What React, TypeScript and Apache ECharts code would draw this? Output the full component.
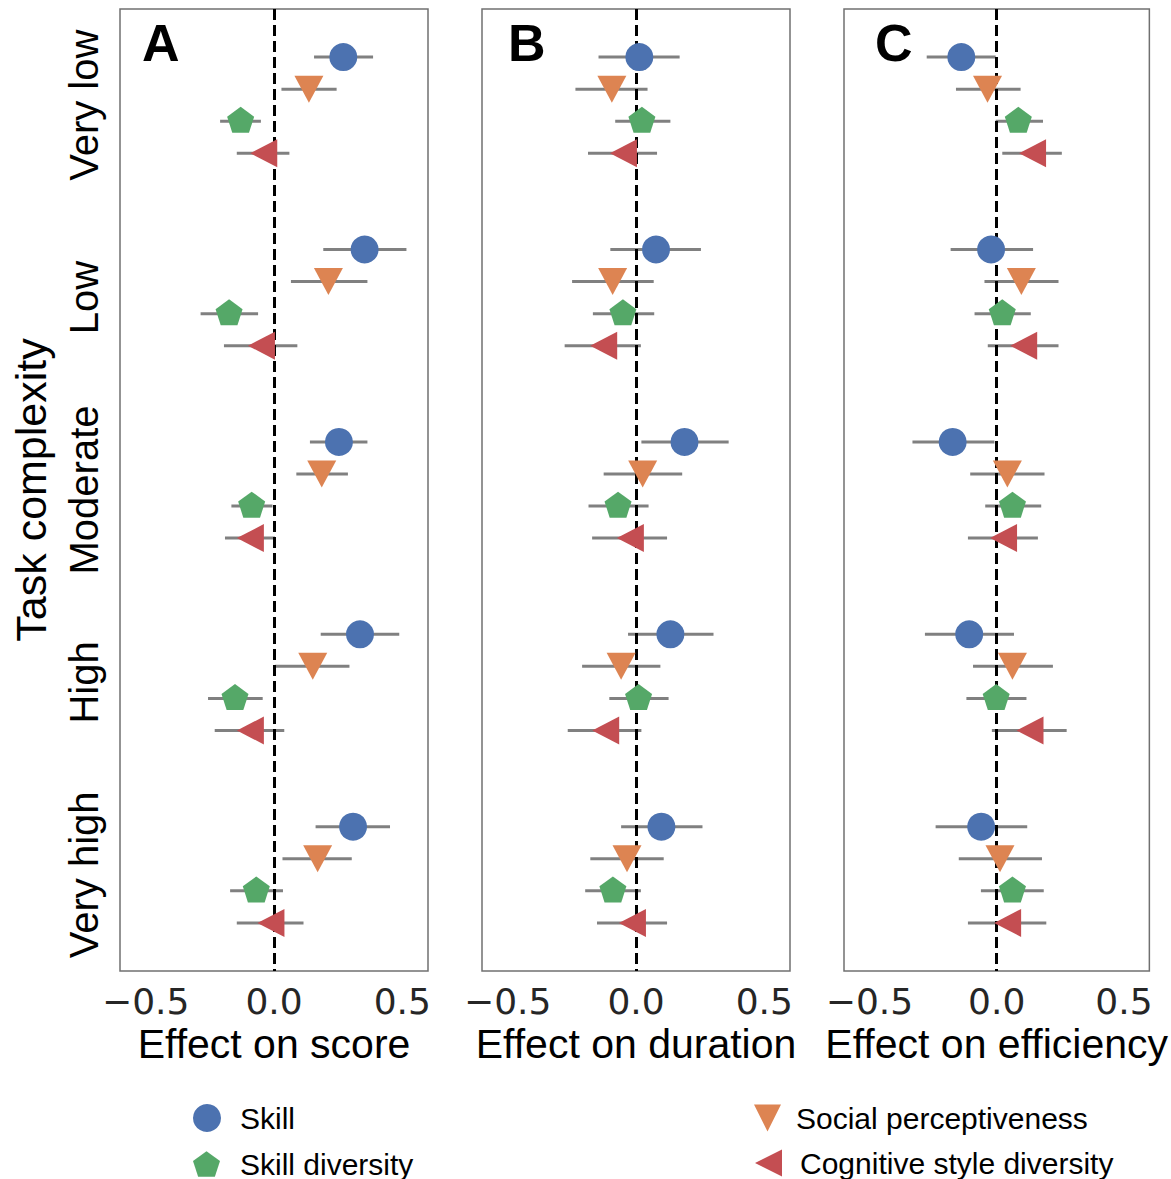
import React, { useEffect, useRef } from "react";
import * as echarts from "echarts";

// Task complexity levels (top to bottom)
const categories = ["Very low", "Low", "Moderate", "High", "Very high"];
const predictors = ["Skill", "Social perceptiveness", "Skill diversity", "Cognitive style diversity"];
const panelLetters = ["A", "B", "C"];
const outcomeTitles = ["Effect on score", "Effect on duration", "Effect on efficiency"];
const xTicks = [-0.5, 0, 0.5];

// [estimate, lower CI, upper CI] for each complexity level
const scoreSkill = [[0.27, 0.156, 0.386], [0.353, 0.192, 0.516], [0.253, 0.14, 0.364], [0.335, 0.182, 0.488], [0.308, 0.162, 0.452]];
const scoreSocial = [[0.136, 0.029, 0.244], [0.212, 0.066, 0.364], [0.186, 0.087, 0.288], [0.151, 0.004, 0.294], [0.17, 0.033, 0.303]];
const scoreSkillDiv = [[-0.13, -0.21, -0.051], [-0.175, -0.286, -0.062], [-0.087, -0.166, -0.006], [-0.152, -0.257, -0.044], [-0.069, -0.171, 0.035]];
const scoreCogDiv = [[-0.04, -0.145, 0.06], [-0.049, -0.195, 0.091], [-0.092, -0.191, 0.004], [-0.092, -0.231, 0.04], [-0.012, -0.145, 0.115]];

const durationSkill = [[0.013, -0.146, 0.17], [0.078, -0.1, 0.253], [0.189, 0.021, 0.361], [0.134, -0.031, 0.302], [0.099, -0.058, 0.259]];
const durationSocial = [[-0.094, -0.236, 0.045], [-0.091, -0.249, 0.069], [0.026, -0.126, 0.18], [-0.058, -0.21, 0.095], [-0.035, -0.178, 0.108]];
const durationSkillDiv = [[0.023, -0.081, 0.134], [-0.051, -0.168, 0.071], [-0.07, -0.185, 0.049], [0.01, -0.104, 0.127], [-0.09, -0.198, 0.019]];
const durationCogDiv = [[-0.049, -0.187, 0.082], [-0.126, -0.278, 0.019], [-0.022, -0.171, 0.121], [-0.118, -0.266, 0.021], [-0.014, -0.152, 0.121]];

const efficiencySkill = [[-0.139, -0.275, -0.004], [-0.022, -0.181, 0.143], [-0.173, -0.331, -0.009], [-0.108, -0.282, 0.068], [-0.061, -0.24, 0.12]];
const efficiencySocial = [[-0.036, -0.16, 0.094], [0.097, -0.048, 0.243], [0.042, -0.104, 0.188], [0.062, -0.093, 0.221], [0.013, -0.149, 0.178]];
const efficiencySkillDiv = [[0.085, -0.004, 0.182], [0.022, -0.087, 0.134], [0.062, -0.045, 0.175], [-0.002, -0.119, 0.117], [0.062, -0.062, 0.185]];
const efficiencyCogDiv = [[0.141, 0.022, 0.256], [0.106, -0.035, 0.243], [0.027, -0.113, 0.162], [0.131, -0.019, 0.275], [0.043, -0.113, 0.195]];

const panelData = [
  [scoreSkill, scoreSocial, scoreSkillDiv, scoreCogDiv],
  [durationSkill, durationSocial, durationSkillDiv, durationCogDiv],
  [efficiencySkill, efficiencySocial, efficiencySkillDiv, efficiencyCogDiv],
];

// Styling
const colors = ["#4C72B0", "#DD8452", "#55A868", "#C44E52"];
const PENTAGON = "path://M0,-1 L0.951,-0.309 L0.588,0.809 L-0.588,0.809 L-0.951,-0.309 Z";
const TRI_DOWN = "path://M0,0 L2,0 L1,2 Z";
const TRI_LEFT = "path://M0,1 L2,0 L2,2 Z";
const symbols = ["circle", TRI_DOWN, PENTAGON, TRI_LEFT];
const symbolSizes: any[] = [28, [29, 27], [27, 26], [27, 28]];
const symbolOffsets: any[] = [[0, 0], [0, 0], [0, -1.4], [0, 0]];
const rowOffsets = [-0.25, -1 / 12, 1 / 12, 0.25];

const SANS = "'Liberation Sans', Arial, Helvetica, sans-serif";
const TICK_FONT = "'DejaVu Sans', sans-serif";
const gridLefts = [120, 482, 844];
const GRID_W = 308;
const GRID_TOP = 9;
const GRID_H = 962;

const fmtTick = (v: number) => (v < 0 ? "\u2212" + Math.abs(v).toFixed(1) : v.toFixed(1));

function buildOption() {
  const grid = gridLefts.map((left) => ({
    left,
    top: GRID_TOP,
    width: GRID_W,
    height: GRID_H,
    show: true,
    borderColor: "#707070",
    borderWidth: 1.5,
    backgroundColor: "transparent",
  }));

  const xAxis = outcomeTitles.map((title, p) => ({
    type: "value",
    gridIndex: p,
    min: -0.6,
    max: 0.6,
    name: title,
    nameLocation: "middle",
    nameGap: 50,
    nameTextStyle: { fontFamily: SANS, fontSize: 41, color: "#000" },
    axisLine: { show: false },
    axisTick: { show: false },
    splitLine: { show: false },
    axisLabel: {
      customValues: xTicks,
      formatter: (v: number) => fmtTick(v),
      fontFamily: TICK_FONT,
      fontSize: 36,
      color: "#262626",
      margin: 12,
    },
  }));

  const yAxis = gridLefts.map((_, p) => ({
    type: "value",
    gridIndex: p,
    min: -0.5,
    max: 4.5,
    inverse: true,
    name: p === 0 ? "Task complexity" : "",
    nameLocation: "middle",
    nameRotate: 90,
    nameGap: 68,
    nameTextStyle: { fontFamily: SANS, fontSize: 43, color: "#000" },
    axisLine: { show: false },
    axisTick: { show: false },
    splitLine: { show: false },
    axisLabel: {
      show: p === 0,
      customValues: [0, 1, 2, 3, 4],
      formatter: (v: number) => categories[Math.round(v)],
      rotate: 90,
      fontFamily: SANS,
      fontSize: 40,
      color: "#000",
      margin: 16,
    },
  }));

  const series: any[] = [];
  panelData.forEach((groups, p) => {
    // confidence intervals
    const ciRows: number[][] = [];
    groups.forEach((rows, j) => {
      rows.forEach((r, i) => ciRows.push([r[1], r[2], i + rowOffsets[j]]));
    });
    series.push({
      type: "custom",
      name: "CI" + p,
      xAxisIndex: p,
      yAxisIndex: p,
      z: 1,
      silent: true,
      data: ciRows,
      encode: { x: [0, 1], y: 2 },
      renderItem: (params: any, api: any) => {
        const a = api.coord([api.value(0), api.value(2)]);
        const b = api.coord([api.value(1), api.value(2)]);
        return {
          type: "line",
          shape: { x1: a[0], y1: a[1], x2: b[0], y2: b[1] },
          style: { stroke: "#808080", lineWidth: 3 },
        };
      },
      markLine: {
        silent: true,
        symbol: ["none", "none"],
        label: { show: false },
        lineStyle: { type: [11, 5], color: "#000", width: 3 },
        data: [{ xAxis: 0 }],
        z: 2,
      },
    });
    groups.forEach((rows, j) => {
      series.push({
        type: "scatter",
        name: predictors[j],
        xAxisIndex: p,
        yAxisIndex: p,
        z: 3,
        silent: true,
        symbol: symbols[j],
        symbolSize: symbolSizes[j],
        symbolOffset: symbolOffsets[j],
        itemStyle: { color: colors[j], opacity: 1 },
        data: rows.map((r, i) => [r[0], i + rowOffsets[j]]),
      });
    });
  });

  const legendItem = (name: string, icon: string, left: number, top: number, w: number, h: number, gap: number) => ({
    orient: "vertical",
    selectedMode: false,
    padding: 0,
    data: [{ name, icon }],
    left,
    top,
    itemWidth: w,
    itemHeight: h,
    textStyle: { fontFamily: SANS, fontSize: 30, color: "#000", padding: [0, 0, 0, gap] },
  });
  const legend = [
    legendItem(predictors[0], "circle", 193, 1103, 28, 28, 14),
    legendItem(predictors[2], PENTAGON, 193, 1149, 27, 26, 15),
    legendItem(predictors[1], TRI_DOWN, 754, 1103, 29, 27, 9),
    legendItem(predictors[3], TRI_LEFT, 755, 1148, 27, 28, 13),
  ];

  const letterX = [142, 508, 875];
  const graphic = panelLetters.map((t, p) => ({
    type: "text",
    left: letterX[p],
    top: 17,
    silent: true,
    style: { text: t, fontFamily: SANS, fontWeight: "bold", fontSize: 52, fill: "#000" },
  }));

  return {
    animation: false,
    backgroundColor: "#fff",
    grid,
    xAxis,
    yAxis,
    series,
    legend,
    graphic,
  };
}

export default function App() {
  const ref = useRef<HTMLDivElement>(null);
  useEffect(() => {
    document.body.style.margin = "0";
    if (!ref.current) return;
    const chart = echarts.init(ref.current, undefined, { renderer: "svg" });
    chart.setOption(buildOption() as any);
    return () => chart.dispose();
  }, []);
  return <div ref={ref} style={{ width: 1171, height: 1179 }} />;
}
